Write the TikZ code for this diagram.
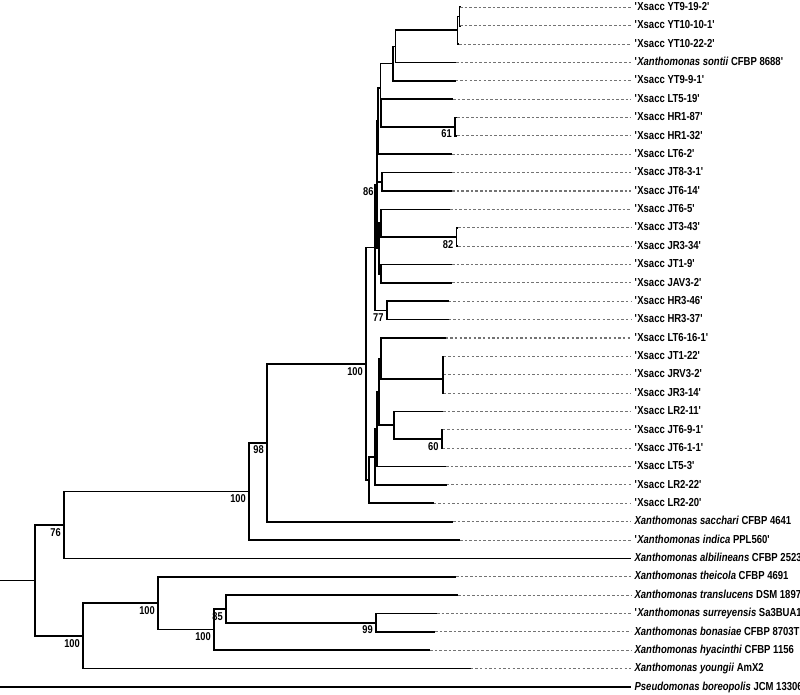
\documentclass[tikz,border=0pt]{standalone}
\usepackage{fontspec}
\setmainfont{Liberation Sans}[FakeStretch=0.82]
\newcommand{\q}{\textquotesingle}
\begin{document}
\begin{tikzpicture}[x=0.75pt,y=-0.75pt,line join=miter,
  branch/.style={line width=1.25pt,black},
  guide/.style={line width=0.8pt,black!55,dash pattern=on 1.9pt off 1.6pt},
  leaf/.style={anchor=base west,inner xsep=2.5pt,inner ysep=0pt,yshift=-2.4pt,font=\fontsize{8.7pt}{10pt}\selectfont\bfseries},
  boot/.style={anchor=north east,inner sep=0pt,xshift=-2.2pt,yshift=-2.2pt,font=\fontsize{8.5pt}{10pt}\selectfont\bfseries}]
\useasboundingbox (0,0) rectangle (800,694);
%%
\node (leaf_0) at (631,7.3) [leaf] {\q Xsacc YT9-19-2\q};
  \node (leaf_1) at (631,25.67) [leaf] {\q Xsacc YT10-10-1\q};
  \node (leaf_2) at (631,44.04) [leaf] {\q Xsacc YT10-22-2\q};
  \node (leaf_3) at (631,62.41) [leaf] {\q\textit{Xanthomonas sontii} CFBP 8688\q};
  \node (leaf_4) at (631,80.78) [leaf] {\q Xsacc YT9-9-1\q};
  \node (leaf_5) at (631,99.15) [leaf] {\q Xsacc LT5-19\q};
  \node (leaf_6) at (631,117.52) [leaf] {\q Xsacc HR1-87\q};
  \node (leaf_7) at (631,135.89) [leaf] {\q Xsacc HR1-32\q};
  \node (leaf_8) at (631,154.26) [leaf] {\q Xsacc LT6-2\q};
  \node (leaf_9) at (631,172.63) [leaf] {\q Xsacc JT8-3-1\q};
  \node (leaf_10) at (631,191.0) [leaf] {\q Xsacc JT6-14\q};
  \node (leaf_11) at (631,209.37) [leaf] {\q Xsacc JT6-5\q};
  \node (leaf_12) at (631,227.74) [leaf] {\q Xsacc JT3-43\q};
  \node (leaf_13) at (631,246.11) [leaf] {\q Xsacc JR3-34\q};
  \node (leaf_14) at (631,264.48) [leaf] {\q Xsacc JT1-9\q};
  \node (leaf_15) at (631,282.85) [leaf] {\q Xsacc JAV3-2\q};
  \node (leaf_16) at (631,301.22) [leaf] {\q Xsacc HR3-46\q};
  \node (leaf_17) at (631,319.59) [leaf] {\q Xsacc HR3-37\q};
  \node (leaf_18) at (631,337.96) [leaf] {\q Xsacc LT6-16-1\q};
  \node (leaf_19) at (631,356.33) [leaf] {\q Xsacc JT1-22\q};
  \node (leaf_20) at (631,374.7) [leaf] {\q Xsacc JRV3-2\q};
  \node (leaf_21) at (631,393.07) [leaf] {\q Xsacc JR3-14\q};
  \node (leaf_22) at (631,411.44) [leaf] {\q Xsacc LR2-11\q};
  \node (leaf_23) at (631,429.81) [leaf] {\q Xsacc JT6-9-1\q};
  \node (leaf_24) at (631,448.18) [leaf] {\q Xsacc JT6-1-1\q};
  \node (leaf_25) at (631,466.55) [leaf] {\q Xsacc LT5-3\q};
  \node (leaf_26) at (631,484.92) [leaf] {\q Xsacc LR2-22\q};
  \node (leaf_27) at (631,503.29) [leaf] {\q Xsacc LR2-20\q};
  \node (leaf_28) at (631,521.66) [leaf] {\textit{Xanthomonas sacchari} CFBP 4641};
  \node (leaf_29) at (631,540.03) [leaf] {\q\textit{Xanthomonas indica} PPL560\q};
  \node (leaf_30) at (631,558.4) [leaf] {\textit{Xanthomonas albilineans} CFBP 2523};
  \node (leaf_31) at (631,576.77) [leaf] {\textit{Xanthomonas theicola} CFBP 4691};
  \node (leaf_32) at (631,595.14) [leaf] {\textit{Xanthomonas translucens} DSM 1897};
  \node (leaf_33) at (631,613.51) [leaf] {\q\textit{Xanthomonas surreyensis} Sa3BUA1};
  \node (leaf_34) at (631,631.88) [leaf] {\textit{Xanthomonas bonasiae} CFBP 8703T};
  \node (leaf_35) at (631,650.25) [leaf] {\textit{Xanthomonas hyacinthi} CFBP 1156};
  \node (leaf_36) at (631,668.62) [leaf] {\textit{Xanthomonas youngii} AmX2};
  \node (leaf_37) at (631,686.99) [leaf] {\textit{Pseudomonas boreopolis} JCM 13306};
%% branch tips
\coordinate (tip_0) at (460,7.3);
  \coordinate (tip_1) at (460,25.67);
  \coordinate (tip_2) at (459,44.04);
  \coordinate (tip_3) at (456,62.41);
  \coordinate (tip_4) at (455.5,80.78);
  \coordinate (tip_5) at (453,99.15);
  \coordinate (tip_6) at (457,117.52);
  \coordinate (tip_7) at (457,135.89);
  \coordinate (tip_8) at (452,154.26);
  \coordinate (tip_9) at (452,172.63);
  \coordinate (tip_10) at (452,191.0);
  \coordinate (tip_11) at (450,209.37);
  \coordinate (tip_12) at (458,227.74);
  \coordinate (tip_13) at (458,246.11);
  \coordinate (tip_14) at (452,264.48);
  \coordinate (tip_15) at (452,282.85);
  \coordinate (tip_16) at (448.5,301.22);
  \coordinate (tip_17) at (448.5,319.59);
  \coordinate (tip_18) at (445.5,337.96);
  \coordinate (tip_19) at (443.5,356.33);
  \coordinate (tip_20) at (443.5,374.7);
  \coordinate (tip_21) at (443.5,393.07);
  \coordinate (tip_22) at (443,411.44);
  \coordinate (tip_23) at (442.5,429.81);
  \coordinate (tip_24) at (442.5,448.18);
  \coordinate (tip_25) at (446,466.55);
  \coordinate (tip_26) at (446.5,484.92);
  \coordinate (tip_27) at (433.5,503.29);
  \coordinate (tip_28) at (453,521.66);
  \coordinate (tip_29) at (460,540.03);
  \coordinate (tip_30) at (631,558.4);
  \coordinate (tip_31) at (456,576.77);
  \coordinate (tip_32) at (458,595.14);
  \coordinate (tip_33) at (437,613.51);
  \coordinate (tip_34) at (435,631.88);
  \coordinate (tip_35) at (430,650.25);
  \coordinate (tip_36) at (470.5,668.62);
  \coordinate (tip_37) at (631,686.99);
%% inner nodes
\coordinate (inner_a1) at (459.5,16.49);
  \coordinate (inner_a2) at (457.5,30.27);
  \coordinate (inner_b) at (395.5,46.34);
  \coordinate (inner_c) at (393,63.56);
  \coordinate (inner_n61) at (455,126.71);
  \coordinate (inner_f) at (381.3,112.93);
  \coordinate (inner_d) at (380.5,88.25);
  \coordinate (inner_g) at (377.8,121.26);
  \coordinate (inner_h) at (382.3,181.82);
  \coordinate (inner_n82) at (456.5,236.93);
  \coordinate (inner_i) at (381.3,223.15);
  \coordinate (inner_j) at (381.3,273.67);
  \coordinate (inner_k) at (379.3,248.41);
  \coordinate (inner_n86) at (376.7,184.84);
  \coordinate (inner_n77) at (386.7,310.41);
  \coordinate (inner_w) at (375,247.63);
  \coordinate (inner_s0) at (442.7,365.52);
  \coordinate (inner_s) at (442.7,379.3);
  \coordinate (inner_u) at (380.7,358.63);
  \coordinate (inner_n60) at (441.7,439.0);
  \coordinate (inner_t) at (394.3,425.22);
  \coordinate (inner_v) at (379.3,391.93);
  \coordinate (inner_r) at (377,429.24);
  \coordinate (inner_q) at (375,457.08);
  \coordinate (inner_p) at (369,480.19);
  \coordinate (inner_n100a) at (366,363.91);
  \coordinate (inner_n98) at (267,442.79);
  \coordinate (inner_n100b) at (249,491.41);
  \coordinate (inner_n76) at (64,524.91);
  \coordinate (inner_n99) at (376,622.7);
  \coordinate (inner_n85) at (226,608.92);
  \coordinate (inner_n100c) at (214,629.59);
  \coordinate (inner_n100d) at (158,603.18);
  \coordinate (inner_n100e) at (83,635.9);
  \coordinate (inner_root) at (35,580.41);
  \coordinate (inner_stem) at (0,580.41);
  \coordinate (inner_out) at (0,686.99);
%% branches
\draw [branch] (inner_a1) |- (tip_0);
  \draw [branch] (inner_a1) |- (tip_1);
  \draw [branch] (inner_a2) |- (inner_a1);
  \draw [branch] (inner_a2) |- (tip_2);
  \draw [branch] (inner_b) |- (inner_a2);
  \draw [branch] (inner_b) |- (tip_3);
  \draw [branch] (inner_c) |- (inner_b);
  \draw [branch] (inner_c) |- (tip_4);
  \draw [branch] (inner_n61) |- (tip_6);
  \draw [branch] (inner_n61) |- (tip_7);
  \draw [branch] (inner_f) |- (tip_5);
  \draw [branch] (inner_f) |- (inner_n61);
  \draw [branch] (inner_d) |- (inner_c);
  \draw [branch] (inner_d) |- (inner_f);
  \draw [branch] (inner_g) |- (inner_d);
  \draw [branch] (inner_g) |- (tip_8);
  \draw [branch] (inner_h) |- (tip_9);
  \draw [branch] (inner_h) |- (tip_10);
  \draw [branch] (inner_n82) |- (tip_12);
  \draw [branch] (inner_n82) |- (tip_13);
  \draw [branch] (inner_i) |- (tip_11);
  \draw [branch] (inner_i) |- (inner_n82);
  \draw [branch] (inner_j) |- (tip_14);
  \draw [branch] (inner_j) |- (tip_15);
  \draw [branch] (inner_k) |- (inner_i);
  \draw [branch] (inner_k) |- (inner_j);
  \draw [branch] (inner_n86) |- (inner_g);
  \draw [branch] (inner_n86) |- (inner_h);
  \draw [branch] (inner_n86) |- (inner_k);
  \draw [branch] (inner_n77) |- (tip_16);
  \draw [branch] (inner_n77) |- (tip_17);
  \draw [branch] (inner_w) |- (inner_n86);
  \draw [branch] (inner_w) |- (inner_n77);
  \draw [branch] (inner_s0) |- (tip_19);
  \draw [branch] (inner_s0) |- (tip_20);
  \draw [branch] (inner_s) |- (inner_s0);
  \draw [branch] (inner_s) |- (tip_21);
  \draw [branch] (inner_u) |- (tip_18);
  \draw [branch] (inner_u) |- (inner_s);
  \draw [branch] (inner_n60) |- (tip_23);
  \draw [branch] (inner_n60) |- (tip_24);
  \draw [branch] (inner_t) |- (tip_22);
  \draw [branch] (inner_t) |- (inner_n60);
  \draw [branch] (inner_v) |- (inner_u);
  \draw [branch] (inner_v) |- (inner_t);
  \draw [branch] (inner_r) |- (inner_v);
  \draw [branch] (inner_r) |- (tip_25);
  \draw [branch] (inner_q) |- (inner_r);
  \draw [branch] (inner_q) |- (tip_26);
  \draw [branch] (inner_p) |- (inner_q);
  \draw [branch] (inner_p) |- (tip_27);
  \draw [branch] (inner_n100a) |- (inner_w);
  \draw [branch] (inner_n100a) |- (inner_p);
  \draw [branch] (inner_n98) |- (inner_n100a);
  \draw [branch] (inner_n98) |- (tip_28);
  \draw [branch] (inner_n100b) |- (inner_n98);
  \draw [branch] (inner_n100b) |- (tip_29);
  \draw [branch] (inner_n76) |- (inner_n100b);
  \draw [branch] (inner_n76) |- (tip_30);
  \draw [branch] (inner_n99) |- (tip_33);
  \draw [branch] (inner_n99) |- (tip_34);
  \draw [branch] (inner_n85) |- (tip_32);
  \draw [branch] (inner_n85) |- (inner_n99);
  \draw [branch] (inner_n100c) |- (inner_n85);
  \draw [branch] (inner_n100c) |- (tip_35);
  \draw [branch] (inner_n100d) |- (tip_31);
  \draw [branch] (inner_n100d) |- (inner_n100c);
  \draw [branch] (inner_n100e) |- (inner_n100d);
  \draw [branch] (inner_n100e) |- (tip_36);
  \draw [branch] (inner_root) |- (inner_n76);
  \draw [branch] (inner_root) |- (inner_n100e);
  \draw [branch] (inner_stem) -- (inner_root);
  \draw [branch] (inner_out) -- (tip_37);
%% dotted leaders
\foreach \i in {0,...,29,31,32,33,34,35,36}
  \draw [guide] (tip_\i) -- (tip_\i -| leaf_\i.west);
%% bootstrap values
\node (boot_61) at (inner_n61) [boot] {61};
  \node (boot_86) at (inner_n86) [boot] {86};
  \node (boot_82) at (inner_n82) [boot] {82};
  \node (boot_77) at (inner_n77) [boot] {77};
  \node (boot_100a) at (inner_n100a) [boot] {100};
  \node (boot_60) at (inner_n60) [boot] {60};
  \node (boot_98) at (inner_n98) [boot] {98};
  \node (boot_100b) at (inner_n100b) [boot] {100};
  \node (boot_76) at (inner_n76) [boot] {76};
  \node (boot_100e) at (inner_n100e) [boot] {100};
  \node (boot_100d) at (inner_n100d) [boot] {100};
  \node (boot_85) at (inner_n85) [boot] {85};
  \node (boot_100c) at (inner_n100c) [boot] {100};
  \node (boot_99) at (inner_n99) [boot] {99};
%
\end{tikzpicture}
\end{document}
